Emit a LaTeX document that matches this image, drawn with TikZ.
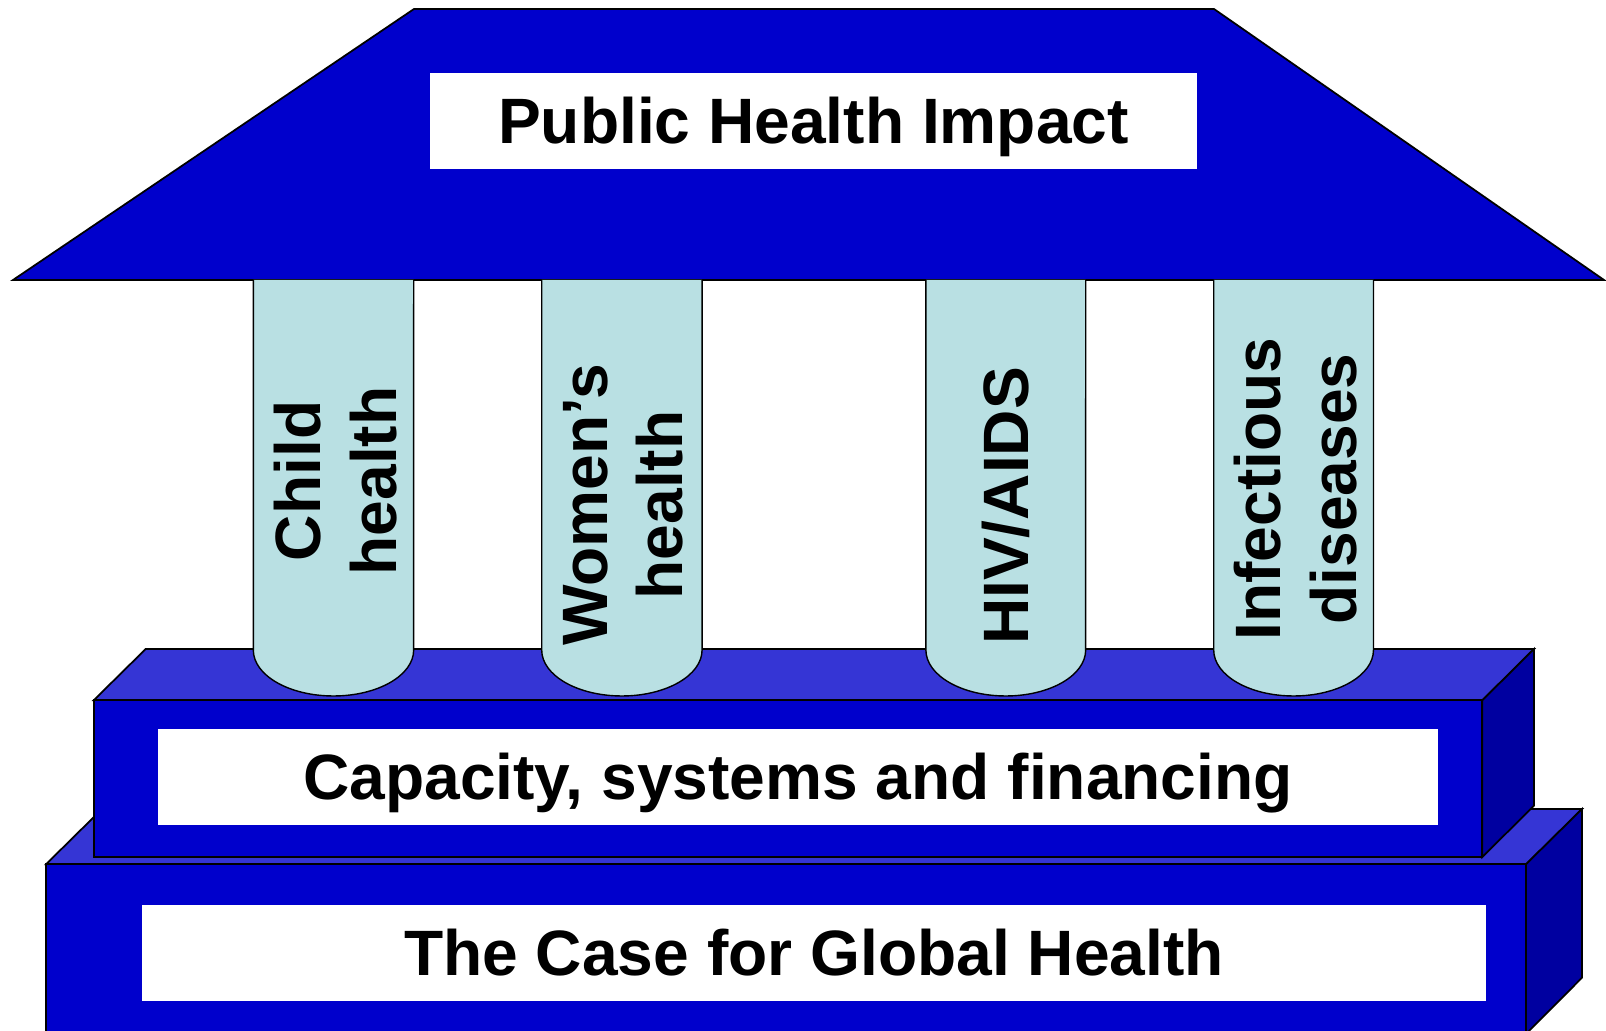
\documentclass[tikz,border=0pt]{standalone}
\usepackage{fontspec}
\setmainfont{Liberation Sans}
\usepackage{tikz}

\definecolor{roofblue}{HTML}{0000CC}
\definecolor{topblue}{HTML}{3535D5}
\definecolor{sideblue}{HTML}{0000A0}
\definecolor{pillarcyan}{HTML}{B9E0E3}

\begin{document}
\begin{tikzpicture}[x=0.02cm, y=0.02cm]

    % Define styles
    \tikzstyle{face} = [draw, line width=1pt, line join=miter]
    \tikzstyle{banner} = [fill=white, inner sep=0pt, text height=26pt, text depth=0pt, font=\bfseries\fontsize{36.5}{43}\selectfont]
    \tikzstyle{pillar} = [draw, fill=pillarcyan, line width=0.8pt]
    \tikzstyle{pillartext} = [rotate=90, align=center, inner sep=0pt, font=\bfseries\fontsize{36.5}{43}\selectfont]

    \useasboundingbox (0,0) rectangle (1606,1031);

    % Roof
    \draw [face, fill=roofblue] (13,751) -- (414,1022) -- (1214,1022) -- (1604,751) -- cycle;

    % Lower step
    \draw [face, fill=topblue] (46,166.7) -- (102,222) -- (1582,222) -- (1526,166.7) -- cycle;
    \draw [face, fill=roofblue] (46,-10) rectangle (1526,166.7);
    \draw [face, fill=sideblue] (1526,166.7) -- (1582,222) -- (1582,53.3) -- (1526,-3) -- cycle;

    % Upper step
    \draw [face, fill=topblue] (93.7,330.7) -- (145.7,382) -- (1534,382) -- (1482.3,330.7) -- cycle;
    \draw [face, fill=roofblue] (93.7,174) rectangle (1482.3,330.7);
    \draw [face, fill=sideblue] (1482.3,330.7) -- (1534,382) -- (1534,225.3) -- (1482.3,174) -- cycle;

    % Pillars
    \draw [pillar] (253.3,751) -- (253.3,381) arc [start angle=180, end angle=360, x radius=1.604cm, y radius=0.92cm] -- (413.7,751);
    \draw [pillar] (541.7,751) -- (541.7,381) arc [start angle=180, end angle=360, x radius=1.604cm, y radius=0.92cm] -- (702.1,751);
    \draw [pillar] (925.9,751) -- (925.9,381) arc [start angle=180, end angle=360, x radius=1.598cm, y radius=0.92cm] -- (1085.7,751);
    \draw [pillar] (1213.7,751) -- (1213.7,381) arc [start angle=180, end angle=360, x radius=1.598cm, y radius=0.92cm] -- (1373.5,751);

    % Place nodes
    \node [banner, minimum width=15.34cm, minimum height=1.92cm] (impact) at (813.5,910) {Public Health Impact};
    \node [banner, minimum width=25.6cm, minimum height=1.914cm] (capacity) at (798,254.1) {Capacity, systems and financing};
    \node [banner, minimum width=26.88cm, minimum height=1.914cm] (globalcase) at (814,78.1) {The Case for Global Health};

    \node [pillartext] (child) at (335.4,550) {Child\\health};
    \node [pillartext] (women) at (623.2,526) {Women’s\\health};
    \node [pillartext] (hiv) at (1006.3,525) {HIV/AIDS};
    \node [pillartext] (infect) at (1295.6,542) {Infectious\\diseases};

\end{tikzpicture}
\end{document}
